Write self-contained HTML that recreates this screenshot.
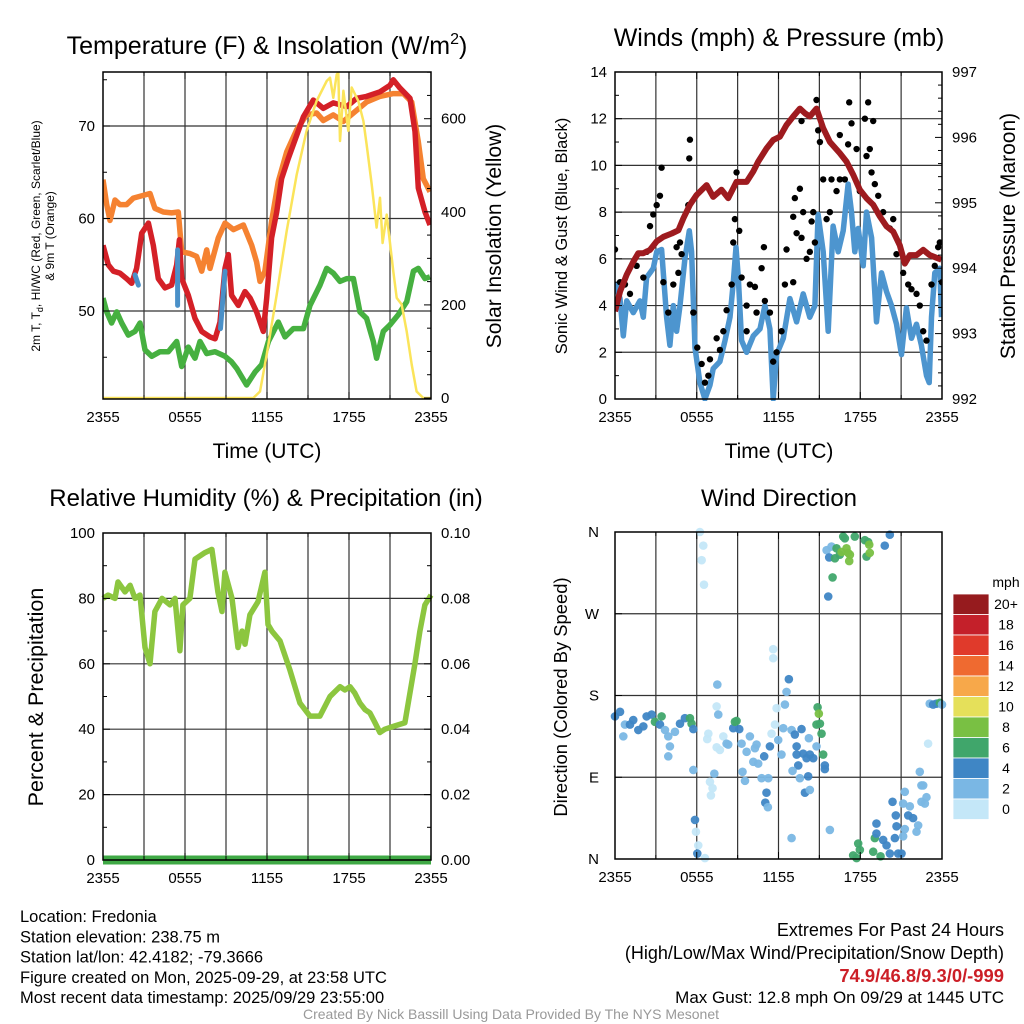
<!DOCTYPE html>
<html><head><meta charset="utf-8"><style>
html,body{margin:0;padding:0;background:#fff}
svg{display:block;font-family:"Liberation Sans",Arial,sans-serif}
</style></head><body>
<svg id="c" width="1024" height="1024" viewBox="0 0 1024 1024" xmlns="http://www.w3.org/2000/svg"></svg>
<script>
// ---- Temperature panel data (hours since 2355 UTC, degF) ----
const redH=[0,.39,.76,1.24,1.73,2.1,2.46,2.83,3.32,3.68,4.05,4.54,5.02,5.39,5.59,5.76,6.24,6.73,7.22,7.83,8.2,8.56,8.93,9.17,9.41,9.9,10.39,10.76,11.24,11.73,11.98,12.34,12.71,13.07,13.56,14.17,14.66,15.39,16.12,16.85,17.83,18.56,19.29,20.27,21.0,21.24,21.73,22.46,22.83,23.07,23.56,23.93];
const redT=[57.1,55.0,54.3,54.1,53.5,53.0,54.6,58.4,59.5,57.1,53.5,52.5,52.8,55.0,57.7,53.5,51.7,49.2,47.8,47.2,47.0,48.8,54.6,56.1,51.7,50.6,52.1,51.4,49.9,47.8,51.4,57.9,60.7,64.3,66.5,69.0,71.0,72.8,71.9,72.5,72.1,73.0,73.2,73.7,74.4,75.0,74.1,73.0,69.4,63.3,60.7,59.3];
const orgH=[0,.27,.51,.88,1.24,1.73,2.22,2.95,3.44,3.8,4.41,5.02,5.51,5.76,6.37,6.85,7.22,7.59,7.83,8.44,8.93,9.54,10.27,10.88,11.24,11.49,11.85,12.34,12.83,13.44,14.17,14.9,15.63,16.12,16.85,17.59,18.32,19.29,20.27,21.24,21.98,22.59,23.07,23.44,23.93];
const orgT=[64.2,61.5,59.8,62.0,61.5,61.5,62.2,62.5,62.7,61.1,60.7,60.6,60.7,56.4,56.2,55.9,54.3,56.6,54.6,57.9,59.5,58.8,59.3,57.1,55.3,53.2,54.3,59.7,64.0,67.2,69.6,71.2,71.4,70.6,71.2,70.5,71.4,72.6,73.2,73.5,73.5,72.6,68.3,64.3,62.9];
const grnH=[0,.27,.63,1.0,1.37,1.85,2.34,2.71,3.07,3.56,4.17,4.78,5.39,5.76,6.24,6.73,7.1,7.59,8.2,8.93,9.41,9.78,10.51,11.12,11.61,12.1,12.83,13.32,13.93,14.66,15.15,15.88,16.37,16.85,17.34,17.83,18.32,18.8,19.29,19.78,20.02,20.51,21.0,21.61,22.22,22.71,23.07,23.56,23.93];
const grnT=[51.4,49.9,48.7,49.9,48.7,47.4,47.8,48.7,45.8,45.1,45.6,45.6,46.7,44.0,46.1,44.9,46.7,45.4,45.6,45.1,44.5,43.8,42.0,43.4,44.2,46.7,48.8,47.2,48.1,48.1,50.6,52.8,54.6,54.1,53.2,53.5,53.5,49.9,49.2,46.7,44.9,47.8,48.5,49.6,51.0,54.3,54.6,53.5,53.7];
const wcH=[[2.34,2.59],[5.46,5.46],[8.93,8.6]];
const wcT=[[53.9,52.8],[56.6,50.6],[54.3,48.1]];
const solH=[0,11.0,11.49,11.98,12.71,13.44,14.17,14.9,15.63,16.37,16.61,16.85,17.1,17.22,17.34,17.59,17.95,18.2,18.68,19.05,19.29,19.66,20.02,20.27,20.46,20.76,21.24,21.49,21.85,22.22,22.59,22.95,23.44,24];
const solW=[0,0,14,93,222,359,480,574,638,681,688,645,695,699,552,660,574,667,638,595,545,459,366,430,333,394,272,215,201,143,72,14,0,0];
// ---- Wind panel data ----
const wndH=[0,.37,.61,.86,1.34,1.83,2.08,2.32,2.57,2.81,3.06,3.42,3.79,4.03,4.28,4.52,4.77,5.13,5.45,5.62,5.87,6.23,6.6,6.97,7.21,7.7,8.07,8.44,8.68,8.88,9.05,9.29,9.66,10.15,10.64,11.0,11.37,11.61,11.86,12.35,12.84,13.33,13.81,14.3,14.67,14.91,15.28,15.65,16.01,16.38,16.75,17.11,17.36,17.6,17.85,18.22,18.46,18.83,19.19,19.56,19.93,20.29,20.66,21.03,21.39,21.76,22.13,22.49,22.86,23.06,23.23,23.47,23.84,23.96];
const wndV=[5.0,4.3,2.7,4.2,3.7,4.2,3.5,5.2,5.4,5.6,6.3,6.4,3.5,2.3,4.0,2.9,4.0,6.0,7.2,6.3,2.2,0.7,0.0,0.6,1.3,1.6,2.5,3.5,5.0,6.5,5.2,2.5,2.0,2.7,3.0,4.0,3.0,0.0,1.9,2.6,4.3,3.3,4.5,3.5,4.0,7.9,6.3,2.9,7.4,6.3,7.2,9.2,8.0,6.3,7.3,5.7,8.0,6.9,3.3,5.4,4.6,4.0,3.2,1.9,3.9,2.6,3.2,2.3,1.0,0.7,3.5,5.4,5.6,3.5];
const gstH=[0,.37,.73,1.1,1.59,2.08,2.32,2.57,2.81,3.06,3.3,3.42,3.55,3.91,4.28,4.52,4.77,4.89,4.65,5.5,5.45,5.38,5.75,6.04,6.36,6.6,6.85,6.97,7.46,7.7,7.95,8.19,8.56,8.68,8.8,8.92,9.12,9.29,9.66,9.66,9.9,10.27,10.76,10.93,10.39,11.0,11.37,11.61,11.86,12.22,12.47,12.59,13.08,13.08,13.2,13.57,13.33,13.69,14.06,14.3,14.43,13.81,14.55,14.67,13.69,14.79,14.91,15.04,15.28,15.53,15.77,15.89,16.26,16.5,16.87,16.5,17.11,17.19,17.36,17.73,17.97,18.34,18.58,18.95,18.46,18.7,18.83,19.07,19.32,19.68,20.17,20.42,20.66,21.15,21.52,21.76,22.13,22.37,22.62,22.86,23.23,23.47,23.72,23.84,24];
const gstV=[6.4,5.0,4.9,4.5,5.7,5.2,6.3,7.4,7.9,8.3,8.7,9.9,5.0,3.7,4.9,6.5,6.7,6.2,5.4,11.1,10.3,8.3,3.7,2.2,1.5,0.7,1.0,1.7,2.6,2.1,2.9,3.8,4.9,6.7,7.7,9.7,7.2,5.2,4.0,2.9,4.9,4.8,5.6,6.5,3.7,4.2,3.7,1.6,2.0,2.9,4.9,6.4,5.0,7.8,8.6,9.0,7.1,6.9,6.0,6.3,7.6,8.0,8.0,6.7,11.9,12.8,11.5,11.0,9.4,7.7,8.0,9.4,8.9,9.4,9.4,11.3,10.9,12.7,11.8,10.7,8.9,12.0,12.7,11.9,10.4,10.7,9.7,9.2,8.7,8.0,7.3,7.7,6.2,5.4,4.9,4.7,4.5,4.0,2.9,2.5,4.9,5.7,6.5,6.7,5.0];
const prsH=[0,.37,.86,1.34,1.71,2.08,2.57,3.06,3.55,4.16,4.65,5.01,5.5,5.99,6.72,7.21,7.82,8.31,8.92,9.66,10.15,10.51,11.12,11.61,12.1,12.59,13.08,13.57,13.94,14.3,14.79,15.28,15.77,16.5,16.99,17.48,17.97,18.46,18.95,19.44,19.93,20.42,20.9,21.27,21.64,22.13,22.62,23.1,23.72,23.96];
const prsV=[993.34,993.64,993.9,994.1,994.23,994.23,994.28,994.41,994.48,994.53,994.58,994.76,994.97,995.12,995.27,995.09,995.2,995.07,995.32,995.32,995.48,995.63,995.83,995.96,996.01,996.19,996.32,996.44,996.37,996.32,996.44,996.14,995.93,995.76,995.63,995.43,995.2,995.07,994.97,994.79,994.64,994.56,994.35,994.07,994.2,994.2,994.28,994.2,994.15,994.13];
// ---- RH panel ----
const rhH=[0,.37,.88,1.1,1.61,1.98,2.34,2.71,3.07,3.44,3.8,4.32,4.9,5.27,5.63,5.85,6.36,6.73,7.46,7.97,8.41,8.71,8.92,9.44,9.88,10.17,10.39,10.75,11.34,11.85,12.07,12.36,12.95,13.68,14.41,15.14,15.87,16.61,17.34,17.7,18.07,18.43,18.8,19.17,19.53,19.9,20.26,20.63,21.36,22.09,22.82,23.19,23.55,24];
const rhV=[80,81,80,85,82,84,80,81,65,60,76,80,78,80,64,78,80,92,94,95,82,76,88,80,65,70,66,75,79,88,72,70,67,58,48,44,44,50,53,52,53,51,48,46,45,42,39,40,41,42,60,70,78,81];
const pcpH=[0,24];
const pcpV=[0,0];
// ---- Wind direction ----
const dirH=[0,.37,.73,.61,1.1,1.34,1.71,2.08,2.32,2.69,2.93,3.42,3.3,3.67,3.91,4.03,3.91,4.4,4.77,5.13,5.5,5.62,5.75,5.75,5.87,5.94,6.11,6.04,6.6,6.23,6.48,6.36,6.53,7.46,7.58,7.51,6.85,6.77,7.46,7.7,7.95,8.19,8.31,7.29,6.97,7.16,7.04,8.68,8.8,8.92,9.12,9.29,9.66,9.9,10.27,10.39,10.15,10.51,9.36,9.54,10.95,10.76,11.25,11.12,11.03,11.22,11.37,11.49,11.74,11.98,12.22,12.35,12.47,12.59,12.76,11.61,11.61,11.86,12.96,13.2,13.33,13.69,13.33,13.45,13.81,14.06,14.3,14.55,14.79,14.23,13.03,13.57,14.18,13.94,14.3,12.96,15.77,14.87,14.96,14.79,15.04,15.16,15.28,15.4,15.4,15.53,15.89,15.72,16.14,16.26,16.5,16.75,16.87,16.63,16.99,17.11,17.24,17.19,17.6,18.34,18.58,18.46,18.7,18.66,19.8,20.17,15.97,15.65,17.48,17.85,17.97,17.73,18.95,19.07,19.49,19.19,19.19,19.68,19.93,20.17,20.54,20.66,20.78,21.03,21.15,21.27,21.15,21.27,21.52,21.64,21.88,22.13,22.25,22.49,22.74,22.86,22.37,22.49,22.62,20.37,20.61,22.98,23.1,23.35,23.59,23.84,24];
const dirV=[157,162,148,135,148,153,142,146,157,159,151,157,148,142,135,124,113,140,149,155,155,149,143,98,43,30,15,6,1,360,345,329,302,168,159,192,138,132,123,120,135,127,126,94,85,78,70,144,151,152,143,127,118,135,122,126,107,105,96,86,113,89,89,73,62,57,124,138,148,131,115,144,170,184,198,231,221,166,142,137,124,143,115,103,116,111,115,111,124,133,97,89,91,73,76,23,32,167,160,148,149,138,115,103,99,340,344,332,331,342,335,355,353,338,342,337,335,328,355,351,349,333,337,346,345,357,310,289,4,17,10,1,8,23,3,39,28,21,15,6,23,36,6,6,25,33,61,74,48,58,45,30,37,63,61,68,96,81,81,63,48,127,171,170,171,172,170];
const dirS=[4,4,2,2,4,4,4,4,4,4,6,6,4,2,2,2,2,2,4,4,6,6,4,2,4,0,0,4,0,0,0,0,0,0,2,2,0,0,0,0,0,2,2,2,0,0,0,4,6,6,4,2,2,2,2,2,2,2,2,2,4,2,2,4,4,2,4,0,0,2,2,2,2,2,4,0,0,0,2,4,4,4,4,4,4,4,4,4,2,2,2,2,4,4,2,2,2,6,8,6,6,6,6,4,4,2,2,4,6,6,6,6,6,8,8,8,8,8,6,6,6,6,8,8,4,4,6,4,6,6,6,6,6,6,6,4,4,4,4,4,4,4,4,4,2,2,2,2,4,2,4,2,2,2,2,2,2,2,2,4,4,0,2,4,4,6,2];
const cbLabels=["20+","18","16","14","12","10","8","6","4","2","0"];
const cbColors=["#961b1e","#c4202a","#e03a2b","#ef6a30","#f7a84a","#e5e05a","#79c043","#40a66b","#3f86c5","#7ab7e4","#c4e7f8"];

const NS="http://www.w3.org/2000/svg";
const svg=document.getElementById('c');
function el(tag,attrs,parent){const e=document.createElementNS(NS,tag);for(const k in attrs)e.setAttribute(k,attrs[k]);(parent||svg).appendChild(e);return e;}
function txt(s,x,y,size,anchor,parent,extra){const t=el('text',Object.assign({x:x,y:y,'font-size':size,'text-anchor':anchor||'middle',fill:'#000'},extra||{}),parent);t.textContent=s;return t;}
function pathD(hs,vs,fx,fy){let d='';for(let i=0;i<hs.length;i++)d+=(i?'L':'M')+fx(hs[i]).toFixed(1)+','+fy(vs[i]).toFixed(1);return d;}

function frame(g,x0,y0,x1,y1,hlines,vlinesX){
  const gg=el('g',{},g);
  
  
  hlines.forEach(y=>el('line',{x1:x0,x2:x1,y1:y,y2:y,stroke:'#333','stroke-width':1.2},gg));
  vlinesX.forEach(x=>el('line',{x1:x,x2:x,y1:y0,y2:y1,stroke:'#333','stroke-width':1.2},gg));
}
function box(g,x0,y0,x1,y1){const r=el('rect',{x:x0,y:y0,width:x1-x0,height:y1-y0,fill:'none',stroke:'#000','stroke-width':1.5},g);}
function xAxis(g,x0,x1,y0,y1){
  const fx=h=>x0+h*(x1-x0)/24;
  const labs=['2355','0555','1155','1755','2355'];
  for(let h=0;h<=24;h+=3){const major=h%6==0;el('line',{x1:fx(h),x2:fx(h),y1:y1,y2:y1-(major?7:4),stroke:'#000'},g);el('line',{x1:fx(h),x2:fx(h),y1:y0,y2:y0+(major?7:4),stroke:'#000'},g);}
  labs.forEach((l,i)=>{const t=txt(l,fx(i*6),y1+23,15,'middle',g);});
  return fx;
}

// ================= Panel 1 =================
(function(){
  const g=el('g',{});
  const X0=103,X1=431,Y0=72,Y1=399;
  const fx=h=>X0+h*(X1-X0)/24;
  const fy=t=>311-(t-50)*9.25;
  const fw=w=>398-w*0.4655;
  frame(g,X0,Y0,X1,Y1,[fy(50),fy(60),fy(70)],[3,6,9,12,15,18,21].map(fx));
  const clip=el('clipPath',{id:'cp1'},g);el('rect',{x:X0,y:Y0,width:X1-X0,height:Y1-Y0},clip);
  const pg=el('g',{'clip-path':'url(#cp1)'},g);
  let p;
  p=el('path',{d:pathD(orgH,orgT,fx,fy),fill:'none',stroke:'#f58231','stroke-width':5.5,'stroke-linejoin':'round'},pg);
  p=el('path',{d:pathD(grnH,grnT,fx,fy),fill:'none',stroke:'#46b040','stroke-width':5.5,'stroke-linejoin':'round'},pg);
  p=el('path',{d:pathD(redH,redT,fx,fy),fill:'none',stroke:'#d42027','stroke-width':5.5,'stroke-linejoin':'round'},pg);
  for(let i=0;i<wcH.length;i++){p=el('path',{d:pathD(wcH[i],wcT[i],fx,fy),fill:'none',stroke:'#4a90c8','stroke-width':5,'stroke-linecap':'round'},pg);}
  p=el('path',{d:pathD(solH,solW,fx,fw),fill:'none',stroke:'#fbe45a','stroke-width':2.5,'stroke-linejoin':'round'},pg);
  box(g,X0,Y0,X1,Y1);
  xAxis(g,X0,X1,Y0,Y1);
  for(let t=45;t<=75;t+=5){const m=t%10==0;el('line',{x1:X0,x2:X0+(m?7:4),y1:fy(t),y2:fy(t),stroke:'#000'},g);}
  [50,60,70].forEach(t=>{const l=txt(String(t),X0-8,fy(t)+5,15,'end',g);});
  for(let w=0;w<=700;w+=50){const m=w%200==0;el('line',{x1:X1,x2:X1-(m?7:4),y1:fw(w),y2:fw(w),stroke:'#000'},g);}
  [0,200,400,600].forEach(w=>{const l=txt(String(w),X1+10,fw(w)+5,15,'start',g);});
  let t=el('text',{x:267,y:54,'font-size':25,'text-anchor':'middle'},g);
  t.innerHTML='Temperature (F) &amp; Insolation (W/m<tspan dy="-10" font-size="16">2</tspan><tspan dy="10">)</tspan>';
  t=txt('Time (UTC)',267,458,21,'middle',g);
  t=el('text',{transform:'translate(40,236) rotate(-90)','font-size':12,'text-anchor':'middle'},g);
  t.innerHTML='2m T, T<tspan dy="3" font-size="9">d</tspan><tspan dy="-3">, HI/WC (Red, Green, Scarlet/Blue)</tspan>';
  t=txt('& 9m T (Orange)',0,0,12,'middle',g,{transform:'translate(54,236) rotate(-90)'});
  t=txt('Solar Insolation (Yellow)',0,0,21,'middle',g,{transform:'translate(501,236) rotate(-90)'});
})();

// ================= Panel 2 =================
(function(){
  const g=el('g',{});
  const X0=615,X1=942,Y0=72,Y1=399;
  const fx=h=>X0+h*(X1-X0)/24;
  const fy=w=>399-w*23.36;
  const fp=p=>399-(p-992)*65.4;
  frame(g,X0,Y0,X1,Y1,[2,4,6,8,10,12].map(fy),[3,6,9,12,15,18,21].map(fx));
  const clip=el('clipPath',{id:'cp2'},g);el('rect',{x:X0,y:Y0-2,width:X1-X0,height:Y1-Y0+4},clip);
  const pg=el('g',{'clip-path':'url(#cp2)'},g);
  let p=el('path',{d:pathD(wndH,wndV,fx,fy),fill:'none',stroke:'#4d95cf','stroke-width':5.5,'stroke-linejoin':'round'},pg);
  for(let i=0;i<gstH.length;i++){const c=el('circle',{cx:fx(gstH[i]),cy:fy(gstV[i]),r:3.2,fill:'#000'},pg);}
  p=el('path',{d:pathD(prsH,prsV,fx,fp),fill:'none',stroke:'#9e1b1f','stroke-width':6,'stroke-linejoin':'round'},pg);
  box(g,X0,Y0,X1,Y1);
  xAxis(g,X0,X1,Y0,Y1);
  for(let w=0;w<=14;w++){const m=w%2==0;el('line',{x1:X0,x2:X0+(m?7:4),y1:fy(w),y2:fy(w),stroke:'#000'},g);}
  for(let w=0;w<=14;w+=2){const l=txt(String(w),X0-8,fy(w)+5,15,'end',g);}
  for(let k=0;k<=25;k++){const pv=992+k*0.2;const m=k%5==0;el('line',{x1:X1,x2:X1-(m?7:4),y1:fp(pv),y2:fp(pv),stroke:'#000'},g);}
  for(let pv=992;pv<=997;pv++){const l=txt(String(pv),X1+10,fp(pv)+5,15,'start',g);}
  let t=txt('Winds (mph) & Pressure (mb)',779,46,25,'middle',g);
  t=txt('Time (UTC)',779,458,21,'middle',g);
  t=txt('Sonic Wind & Gust (Blue, Black)',0,0,16.5,'middle',g,{transform:'translate(567,236) rotate(-90)'});
  t=txt('Station Pressure (Maroon)',0,0,21,'middle',g,{transform:'translate(1015,236) rotate(-90)'});
})();

// ================= Panel 3 =================
(function(){
  const g=el('g',{});
  const X0=103,X1=431,Y0=533,Y1=860;
  const fx=h=>X0+h*(X1-X0)/24;
  const fy=v=>Y1-v*3.27;
  const fpc=v=>Y1-v*3270;
  frame(g,X0,Y0,X1,Y1,[20,40,60,80].map(fy),[3,6,9,12,15,18,21].map(fx));
  let p=el('path',{d:pathD(rhH,rhV,fx,fy),fill:'none',stroke:'#8cc63f','stroke-width':5.5,'stroke-linejoin':'round'},g);
  p=el('path',{d:pathD(pcpH,pcpV,fx,fpc),fill:'none',stroke:'#3fa945','stroke-width':9},g);
  box(g,X0,Y0,X1,Y1);
  xAxis(g,X0,X1,Y0,Y1);
  for(let v=0;v<=100;v+=10){const m=v%20==0;el('line',{x1:X0,x2:X0+(m?7:4),y1:fy(v),y2:fy(v),stroke:'#000'},g);el('line',{x1:X1,x2:X1-(m?7:4),y1:fy(v),y2:fy(v),stroke:'#000'},g);}
  for(let v=0;v<=100;v+=20){let l=txt(String(v),X0-8,fy(v)+5,15,'end',g);
    l=txt((v/1000).toFixed(2),X1+10,fy(v)+5,15,'start',g);}
  let t=txt('Relative Humidity (%) & Precipitation (in)',266,506,24,'middle',g);
  t=txt('Percent & Precipitation',0,0,21.5,'middle',g,{transform:'translate(43,697) rotate(-90)'});
})();

// ================= Panel 4 =================
(function(){
  const g=el('g',{});
  const X0=615,X1=942,Y0=532,Y1=859;
  const fx=h=>X0+h*(X1-X0)/24;
  const fy=d=>Y1-d*(Y1-Y0)/360;
  frame(g,X0,Y0,X1,Y1,[90,180,270].map(fy),[3,6,9,12,15,18,21].map(fx));
  const bin=s=>cbColors[10-Math.min(10,Math.floor(s/2))];
  for(let i=0;i<dirH.length;i++){const c=el('circle',{cx:fx(dirH[i]),cy:fy(dirV[i]),r:4.3,fill:bin(dirS[i]),'fill-opacity':0.95},g);}
  box(g,X0,Y0,X1,Y1);
  xAxis(g,X0,X1,Y0,Y1);
  ['N','E','S','W','N'].forEach((l,i)=>{el('line',{x1:X0,x2:X0+7,y1:fy(i*90),y2:fy(i*90),stroke:'#000'},g);const t=txt(l,X0-16,fy(i*90)+5,15,'end',g);});
  let t=txt('Wind Direction',779,506,24,'middle',g);
  t=txt('Direction (Colored By Speed)',0,0,18.4,'middle',g,{transform:'translate(567,697) rotate(-90)'});
  const lg=el('g',{},g);
  const by=594,bh=20.5;
  cbColors.forEach((c,i)=>{const r=el('rect',{x:953,y:by+i*bh,width:36,height:bh,fill:c,stroke:'#fff','stroke-width':0.8},lg);
    const l=txt(cbLabels[i],1006,by+i*bh+15,14,'middle',lg);});
  t=txt('mph',1006,587,14,'middle',lg);
})();

// ================= Footer =================
(function(){
  const g=el('g',{});
  const left=['Location: Fredonia','Station elevation: 238.75 m','Station lat/lon: 42.4182; -79.3666','Figure created on Mon, 2025-09-29, at 23:58 UTC','Most recent data timestamp: 2025/09/29 23:55:00'];
  left.forEach((s,i)=>{const t=txt(s,20,922+i*20.3,16.5,'start',g);});
  let t=txt('Extremes For Past 24 Hours',1004,936,18,'end',g);
  t=txt('(High/Low/Max Wind/Precipitation/Snow Depth)',1004,959,18,'end',g);
  t=txt('74.9/46.8/9.3/0/-999',1004,982,18.4,'end',g,{fill:'#cc1f27','font-weight':'bold'});
  t=txt('Max Gust: 12.8 mph On 09/29 at 1445 UTC',1004,1003,17,'end',g);
  t=txt('Created By Nick Bassill Using Data Provided By The NYS Mesonet',511,1019,14,'middle',g,{fill:'#999'});
})();
</script>
</body></html>
